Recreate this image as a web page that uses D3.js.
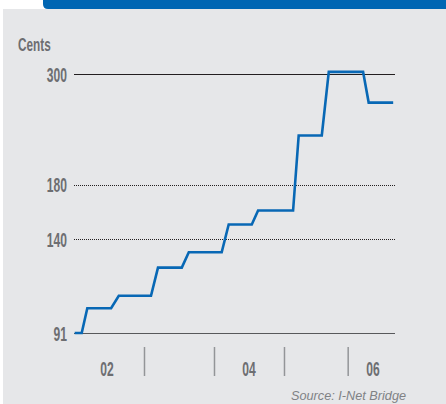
<!DOCTYPE html>
<html lang="en">

<head>
    <meta charset="UTF-8">
    <title>Cents</title>
    <script src="https://d3js.org/d3.v7.min.js"></script>
    <style>
        * {
            margin: 0;
            padding: 0;
        }

        body {
            background: #fff;
        }
    </style>
</head>

<body>
    <script>
        var width = 446;
        var height = 404;

        // data (x in fractional years)
        var years = [2002.01, 2002.11, 2002.19, 2002.53, 2002.64, 2003.10, 2003.20, 2003.54, 2003.64, 2004.11,
            2004.21, 2004.54, 2004.63, 2005.13, 2005.21, 2005.54, 2005.64, 2006.13, 2006.21, 2006.56];
        var cents = [91, 91, 102, 102, 108, 108, 123, 123, 132, 132,
            150, 150, 160, 160, 226, 226, 303, 303, 263, 263];
        var yTicks = [91, 140, 180, 300];
        var solidTicks = [91, 300];
        var yearBreaks = [2003, 2004, 2005, 2005.91];
        var yearLabels = ['02', '04', '06'];
        var yearLabelPos = [2002.47, 2004.5, 2006.27];

        var narrow = 'scale(0.62,1)';
        var labelFont = '"Liberation Sans", Arial, sans-serif';

        var svg = d3.select('body')
            .append('svg')
            .attr('width', width)
            .attr('height', height);

        // panel + top bar
        svg.append('rect')
            .attr('x', 3).attr('y', 9)
            .attr('width', width - 3).attr('height', height - 9)
            .attr('fill', '#e6e7e9');

        svg.append('path')
            .attr('d', 'M43,0 H446 V9 H48 Q43,9 43,4 Z')
            .attr('fill', '#0066b3');

        var xScale = d3.scaleLinear()
            .domain([2002, 2006.586])
            .range([74, 395]);

        var yScale = d3.scaleLog()
            .domain([91, 300])
            .range([333, 74]);

        // gridlines
        svg.selectAll('.grid')
            .data(yTicks)
            .enter()
            .append('line')
            .attr('class', 'grid')
            .attr('x1', xScale.range()[0])
            .attr('x2', xScale.range()[1])
            .attr('y1', function (d) { return Math.round(yScale(d)) + 0.5; })
            .attr('y2', function (d) { return Math.round(yScale(d)) + 0.5; })
            .attr('stroke', function (d) { return d == 91 ? '#58595b' : '#231f20'; })
            .attr('stroke-width', function (d) { return d == 91 ? 1.6 : 1; })
            .attr('shape-rendering', 'crispEdges')
            .attr('stroke-dasharray', function (d) { return solidTicks.indexOf(d) >= 0 ? null : '1,1'; });

        // y labels
        var yAxis = d3.axisLeft(yScale)
            .tickValues(yTicks)
            .tickFormat(d3.format('d'))
            .tickSize(0)
            .tickPadding(0);

        var gy = svg.append('g')
            .attr('transform', 'translate(67,0)')
            .call(yAxis);
        gy.select('.domain').remove();
        gy.selectAll('text')
            .attr('x', 0)
            .attr('dy', '0.36em')
            .attr('transform', narrow)
            .attr('fill', '#6d6e71')
            .style('font-family', labelFont)
            .style('font-weight', 'bold')
            .style('font-size', '19.5px');

        svg.append('text')
            .attr('transform', 'translate(18,51) ' + narrow)
            .text('Cents')
            .attr('fill', '#6d6e71')
            .style('font-family', labelFont)
            .style('font-weight', 'bold')
            .style('font-size', '19px');

        // x axis: year separators
        var xAxis = d3.axisBottom(xScale)
            .tickValues(yearBreaks)
            .tickFormat('')
            .tickSize(29);

        var gx = svg.append('g')
            .attr('transform', 'translate(0,347)')
            .call(xAxis);
        gx.select('.domain').remove();
        gx.selectAll('line')
            .attr('stroke', '#939598')
            .attr('stroke-width', 1.5);

        svg.selectAll('.ylab')
            .data(yearLabels)
            .enter()
            .append('text')
            .attr('class', 'ylab')
            .attr('transform', function (d, i) {
                return 'translate(' + xScale(yearLabelPos[i]) + ',376) ' + narrow;
            })
            .attr('text-anchor', 'middle')
            .text(function (d) { return d; })
            .attr('fill', '#6d6e71')
            .style('font-family', labelFont)
            .style('font-weight', 'bold')
            .style('font-size', '19.5px');

        // the price line
        var line = d3.line()
            .x(function (d, i) { return xScale(years[i]); })
            .y(function (d) { return yScale(d); });

        svg.append('path')
            .datum(cents)
            .attr('d', line)
            .attr('fill', 'none')
            .attr('stroke', '#0868b5')
            .attr('stroke-width', 2.6)
            .attr('stroke-linejoin', 'miter');

        svg.append('text')
            .attr('x', 406)
            .attr('y', 400)
            .attr('text-anchor', 'end')
            .text('Source: I-Net Bridge')
            .attr('fill', '#808285')
            .style('font-family', labelFont)
            .style('font-style', 'italic')
            .style('font-size', '12.7px');
    </script>

</body>

</html>
